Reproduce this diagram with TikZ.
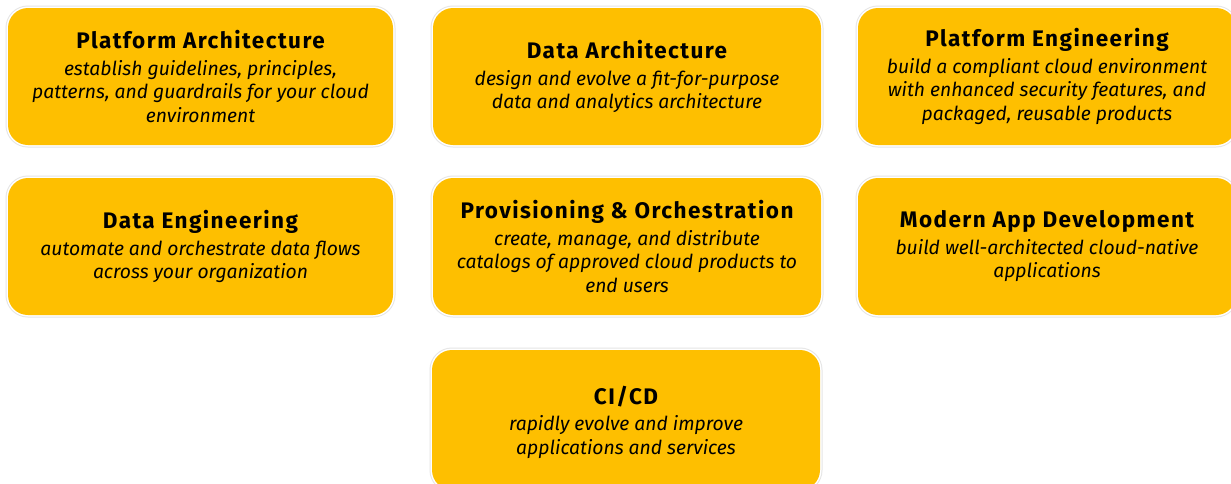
\documentclass[tikz,border=0pt]{standalone}
\usepackage{fontspec}
\setmainfont{Fira Sans}
\newfontfamily\titlefam[LetterSpace=6.5]{Fira Sans}
\definecolor{amber}{HTML}{FEBF00}
\newcommand{\tfont}{\titlefam\fontsize{22.5}{25}\selectfont\upshape\bfseries}
\newcommand{\dfont}{\fontsize{19.3}{23.5}\selectfont\itshape}
\tikzset{
  card/.style={rounded corners=20pt, fill=amber, inner sep=0pt,
    preaction={draw=black!10, line width=5pt},
    preaction={draw=white, line width=3pt},
    align=center, font=\dfont, text=black},
}
\begin{document}
\begin{tikzpicture}[x=1pt,y=-1pt]
\useasboundingbox (0,0) rectangle (1231,483);
\clip (0,0) rectangle (1231,483);
\fill[white] (0,0) rectangle (1231,483);
% row 1
\node[card, minimum width=385pt, minimum height=137pt] (pa) at (200.5,76.5)
  {{\tfont Platform Architecture}\\[3pt]establish guidelines, principles,\\patterns, and guardrails for your cloud\\environment};
\node[card, minimum width=388pt, minimum height=137pt] (da) at (627,76.5)
  {{\tfont Data Architecture}\\[3pt]design and evolve a fit-for-purpose\\data and analytics architecture};
\node[card, minimum width=378pt, minimum height=137pt] (pe) at (1047,76.5)
  {{\tfont Platform Engineering}\\[3pt]build a compliant cloud environment\\with enhanced security features, and\\packaged, reusable products};
% row 2
\node[card, minimum width=385pt, minimum height=137pt] (de) at (200.5,246.5)
  {{\tfont Data Engineering}\\[3pt]automate and orchestrate data flows\\across your organization};
\node[card, minimum width=388pt, minimum height=137pt] (po) at (627,246.5)
  {{\tfont Provisioning \& Orchestration}\\[3pt]create, manage, and distribute\\catalogs of approved cloud products to\\end users};
\node[card, minimum width=378pt, minimum height=137pt] (ma) at (1047,246.5)
  {{\tfont Modern App Development}\\[3pt]build well-architected cloud-native\\applications};
% row 3
\node[card, minimum width=388pt, minimum height=140pt, text depth=0pt] (ci) at (626,420)
  {{\tfont CI/CD}\\[3pt]rapidly evolve and improve\\applications and services};
\end{tikzpicture}
\end{document}
